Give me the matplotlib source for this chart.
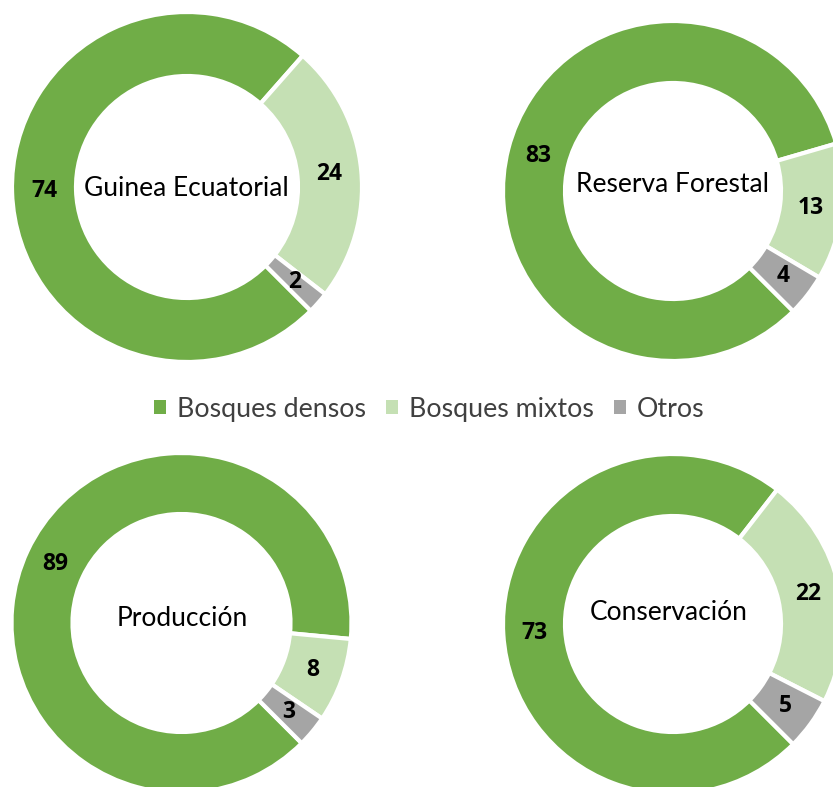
import matplotlib
matplotlib.use("Agg")
import matplotlib.pyplot as plt
from matplotlib.patches import Patch
import numpy as np

categories = ["Bosques densos", "Bosques mixtos", "Otros"]
colors = ["#70AD47", "#C5E0B4", "#A5A5A5"]
titles = ["Guinea Ecuatorial", "Reserva Forestal", "Producción", "Conservación"]
guinea = [74, 24, 2]
reserva = [83, 13, 4]
produccion = [89, 8, 3]
conservacion = [73, 22, 5]
series = [guinea, reserva, produccion, conservacion]

W, H = 833, 787
fig = plt.figure(figsize=(W / 100, H / 100), dpi=100)
ax = fig.add_axes([0, 0, 1, 1])

# layout in pixels (x, y from top), outer radius, inner radius, title position
layout = [
    (187, 187, 175, 111, (186, 188)),
    (673, 191, 170, 108, (673, 184)),
    (181.5, 623, 170, 109, (182, 619)),
    (673, 624, 170, 108, (669, 612)),
]

font = "Lato"
numfont = "Open Sans"
for vals, title, (cx, cy, ro, ri, tpos) in zip(series, titles, layout):
    cyu = H - cy
    wedges, _ = ax.pie(vals, colors=colors, startangle=-45, counterclock=False,
                       center=(cx, cyu), radius=ro,
                       wedgeprops=dict(width=ro - ri, edgecolor="white", linewidth=3))
    rm = (ro + ri) / 2
    for w, v in zip(wedges, vals):
        ang = np.deg2rad((w.theta1 + w.theta2) / 2)
        ax.text(cx + rm * np.cos(ang), cyu + rm * np.sin(ang), str(v),
                ha="center", va="center", fontsize=16.5, fontweight="bold",
                family=numfont, color="black")
    ax.text(tpos[0], H - tpos[1], title, ha="center", va="center",
            fontsize=19, family=font, color="black")

ax.set_xlim(0, W)
ax.set_ylim(0, H)
ax.set_aspect("auto")
ax.axis("off")

handles = [Patch(facecolor=c, edgecolor="none") for c in colors]
leg = fig.legend(handles, categories, loc="center", bbox_to_anchor=(429 / W, 1 - 409 / H),
                 ncol=3, frameon=False, handlelength=0.45, handleheight=0.45,
                 handletextpad=0.4, columnspacing=0.75,
                 prop=dict(family=font, size=19.3))
for t in leg.get_texts():
    t.set_color("#404040")

fig.savefig("out.png", dpi=100)
